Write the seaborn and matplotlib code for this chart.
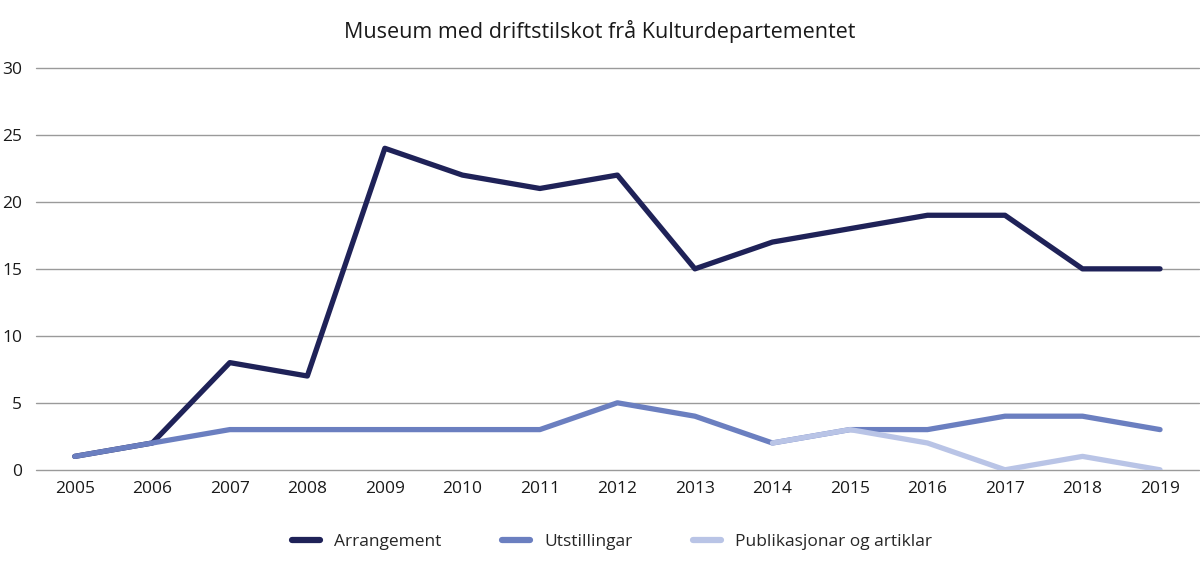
import matplotlib
matplotlib.use("Agg")
import matplotlib.pyplot as plt
import seaborn as sns
import pandas as pd
import numpy as np

years = list(range(2005, 2020))
arrangement = [1, 2, 8, 7, 24, 22, 21, 22, 15, 17, 18, 19, 19, 15, 15]
utstillingar = [1, 2, 3, 3, 3, 3, 3, 5, 4, 2, 3, 3, 4, 4, 3]
publikasjonar = [None] * 9 + [2, 3, 2, 0, 1, 0]

series_names = ["Arrangement", "Utstillingar", "Publikasjonar og artiklar"]
colors = ["#1f2258", "#6b7fc0", "#b9c4e6"]

df = pd.DataFrame({
    "year": years * 3,
    "value": arrangement + utstillingar + publikasjonar,
    "serie": [s for s in series_names for _ in years],
}).dropna()

sns.set_style("white")
plt.rcParams["font.family"] = ["Open Sans", "DejaVu Sans"]

fig = plt.figure(figsize=(12, 5.66), dpi=100)
ax = fig.add_axes([0.03, 0.17, 0.969, 0.71])

sns.lineplot(data=df, x="year", y="value", hue="serie", hue_order=series_names,
             palette=dict(zip(series_names, colors)), linewidth=3.8,
             solid_capstyle="round", ax=ax, legend=False)

ax.set_xlim(2004.5, 2019.5)
ax.set_ylim(0, 30)
ax.set_yticks(range(0, 31, 5))
ax.set_xticks(years)
ax.set_xlabel("")
ax.set_ylabel("")
ax.yaxis.grid(True, color="#9a9a9a", linewidth=1)
for gl in ax.get_ygridlines():
    gl.set_clip_on(False)
ax.set_axisbelow(True)
for s in ax.spines.values():
    s.set_visible(False)
ax.tick_params(axis="both", length=0, labelsize=12.5, colors="#1a1a1a")
ax.tick_params(axis="y", pad=10)
ax.tick_params(axis="x", pad=8)

fig.suptitle("Museum med driftstilskot frå Kulturdepartementet", y=0.965,
             fontsize=15.5, color="#1a1a1a")

handles = [plt.Line2D([0], [0], color=c, linewidth=4.5, solid_capstyle="round")
           for c in colors]
fig.legend(handles, series_names, loc="lower center", bbox_to_anchor=(0.51, 0.0),
           ncol=3, frameon=False, fontsize=12.5, handlelength=1.6,
           columnspacing=3.5, handletextpad=0.8)

fig.savefig("out.png", dpi=100)
